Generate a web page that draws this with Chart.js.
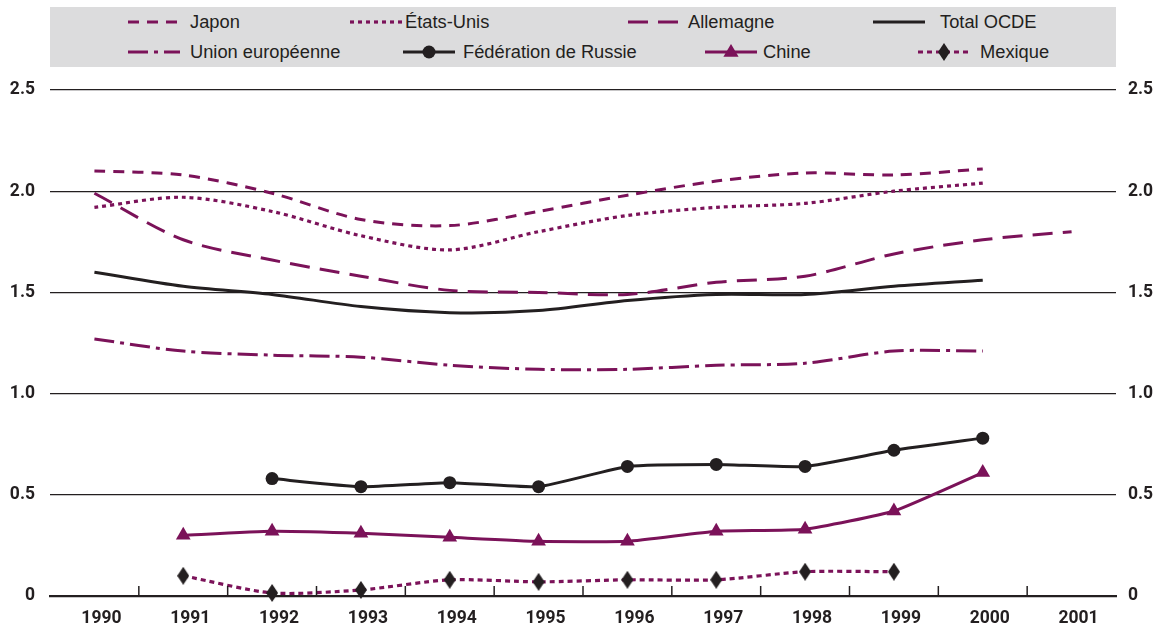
<!DOCTYPE html>
<html lang="fr">
<head>
<meta charset="utf-8">
<script src="https://cdn.jsdelivr.net/npm/chart.js@4.4.1/dist/chart.umd.min.js"></script>
<style>
  html, body { margin: 0; padding: 0; background: #ffffff; }
  #wrap { position: relative; width: 1160px; height: 627px; }
  #chart { position: absolute; left: 0; top: 0; }
  #legend {
    position: absolute; left: 50px; top: 7px; width: 1066px; height: 60px;
    background: #dcdcdd;
  }
  .sym { position: absolute; display: block; }
  .txt {
    position: absolute; line-height: 20px;
    font-family: "Liberation Sans", Arial, sans-serif; font-size: 18.3px;
    color: #231f20; white-space: nowrap;
  }
</style>
</head>
<body>
<div id="wrap">
  <canvas id="chart" width="1160" height="627"></canvas>
  <div id="legend"></div>
</div>
<script>
// Années
const years = ['1990', '1991', '1992', '1993', '1994', '1995', '1996', '1997', '1998', '1999', '2000', '2001'];

// Séries
const japon      = [2.10, 2.08, 1.99, 1.86, 1.83, 1.90, 1.98, 2.05, 2.09, 2.08, 2.11, null];
const etatsUnis  = [1.92, 1.97, 1.90, 1.78, 1.71, 1.80, 1.88, 1.92, 1.94, 2.00, 2.04, null];
const allemagne  = [1.99, 1.76, 1.66, 1.58, 1.51, 1.50, 1.49, 1.55, 1.58, 1.69, 1.76, 1.80];
const totalOCDE  = [1.60, 1.53, 1.49, 1.43, 1.40, 1.41, 1.46, 1.49, 1.49, 1.53, 1.56, null];
const unionEuro  = [1.27, 1.21, 1.19, 1.18, 1.14, 1.12, 1.12, 1.14, 1.15, 1.21, 1.21, null];
const russie     = [null, null, 0.58, 0.54, 0.56, 0.54, 0.64, 0.65, 0.64, 0.72, 0.78, null];
const chine      = [null, 0.30, 0.32, 0.31, 0.29, 0.27, 0.27, 0.32, 0.33, 0.42, 0.61, null];
const mexique    = [null, 0.10, 0.015, 0.03, 0.08, 0.07, 0.08, 0.08, 0.12, 0.12, null, null];

// Graduations de l'axe vertical
const yTicks = [0, 0.5, 1.0, 1.5, 2.0, 2.5];
const yTickLabels = ['0', '0.5', '1.0', '1.5', '2.0', '2.5'];

const PURPLE = '#7b1259';
const BLACK = '#231f20';

// Losange étiré pour le Mexique
function diamond(w, h, color) {
  const c = document.createElement('canvas');
  c.width = w; c.height = h;
  const g = c.getContext('2d');
  g.fillStyle = color;
  g.beginPath();
  g.moveTo(w / 2, 0); g.lineTo(w, h / 2); g.lineTo(w / 2, h); g.lineTo(0, h / 2);
  g.closePath(); g.fill();
  return c;
}
const mexDiamond = diamond(12, 18, BLACK);

const datasets = [
  { label: 'Japon', data: japon, borderColor: PURPLE, borderWidth: 3, borderDash: [11, 8], pointRadius: 0, tension: 0.3 },
  { label: 'États-Unis', data: etatsUnis, borderColor: PURPLE, borderWidth: 3.2, borderDash: [4, 4], pointRadius: 0, tension: 0.3 },
  { label: 'Allemagne', data: allemagne, borderColor: PURPLE, borderWidth: 3, borderDash: [20, 10], pointRadius: 0, tension: 0.3 },
  { label: 'Total OCDE', data: totalOCDE, borderColor: BLACK, borderWidth: 3, pointRadius: 0, tension: 0.3 },
  { label: 'Union européenne', data: unionEuro, borderColor: PURPLE, borderWidth: 3, borderDash: [20, 6, 4, 6], pointRadius: 0, tension: 0.3 },
  { label: 'Fédération de Russie', data: russie, borderColor: BLACK, backgroundColor: BLACK, borderWidth: 3,
    pointStyle: 'circle', pointRadius: 6.5, pointBorderWidth: 0, pointBackgroundColor: BLACK, tension: 0.15 },
  { label: 'Chine', data: chine, borderColor: PURPLE, backgroundColor: PURPLE, borderWidth: 3,
    pointStyle: 'triangle', pointRadius: 8.5, pointBorderWidth: 0, pointBackgroundColor: PURPLE, tension: 0.15 },
  { label: 'Mexique', data: mexique, borderColor: PURPLE, borderWidth: 3.2, borderDash: [5, 4],
    pointStyle: mexDiamond, pointRadius: 8, tension: 0.25 }
];
datasets.forEach(d => { d.fill = false; d.spanGaps = false; d.clip = false; });

// Petits traits verticaux entre les années, posés sur l'axe
const boundaryTicks = {
  id: 'boundaryTicks',
  afterDatasetsDraw(chart) {
    const x = chart.scales.x, ctx = chart.ctx, base = chart.chartArea.bottom;
    ctx.save();
    ctx.strokeStyle = BLACK; ctx.lineWidth = 1.5;
    for (let i = 1; i < years.length; i++) {
      const px = (x.getPixelForValue(i - 1) + x.getPixelForValue(i)) / 2;
      ctx.beginPath(); ctx.moveTo(px, base); ctx.lineTo(px, base - 10); ctx.stroke();
    }
    ctx.restore();
  }
};

const tickFont = { family: 'Roboto, "DejaVu Sans Condensed", sans-serif', size: 17.5, weight: 'bold' };
const yTickCallback = v => { const i = yTicks.indexOf(Math.round(v * 10) / 10); return i >= 0 ? yTickLabels[i] : ''; };

new Chart(document.getElementById('chart'), {
  type: 'line',
  data: { labels: years, datasets },
  options: {
    responsive: false,
    animation: false,
    devicePixelRatio: 1,
    layout: { padding: { top: 90, left: 0, right: 0, bottom: 0 } },
    plugins: { legend: { display: false }, tooltip: { enabled: false } },
    scales: {
      x: {
        type: 'category', offset: true,
        grid: { display: false, drawTicks: false },
        border: { display: true, color: BLACK, width: 2.2 },
        ticks: { font: tickFont, color: BLACK, padding: 12, labelOffset: 7, maxRotation: 0, autoSkip: false },
        afterFit(s) { s.height = 31; }
      },
      y: {
        position: 'left', min: 0, max: 2.5,
        afterBuildTicks(s) { s.ticks = yTicks.map(v => ({ value: v })); },
        grid: { color: BLACK, lineWidth: 1.3, drawTicks: false },
        border: { display: false },
        ticks: { font: tickFont, color: BLACK, padding: 15, callback: yTickCallback },
        afterFit(s) { s.width = 50; }
      },
      y2: {
        position: 'right', min: 0, max: 2.5,
        afterBuildTicks(s) { s.ticks = yTicks.map(v => ({ value: v })); },
        grid: { display: false, drawTicks: false },
        border: { display: false },
        ticks: { font: tickFont, color: BLACK, padding: 12, callback: yTickCallback },
        afterFit(s) { s.width = 44; }
      }
    }
  },
  plugins: [boundaryTicks]
});

// Légende : quatre colonnes sur deux lignes (symbole, texte, haut), relatif au cadre gris
const legendPos = [
  [78, 140, 5], [300, 355, 5], [578, 638, 5], [823, 890, 5],
  [78, 140, 35], [353, 413, 35], [655, 713, 35], [868, 930, 35]
];
const legendEl = document.getElementById('legend');
datasets.forEach((d, i) => {
  const [sx, tx, ty] = legendPos[i];
  const c = document.createElement('canvas');
  c.className = 'sym';
  c.width = 52; c.height = 20;
  c.style.left = sx + 'px'; c.style.top = ty + 'px';
  const g = c.getContext('2d');
  g.strokeStyle = d.borderColor; g.lineWidth = d.borderWidth;
  g.setLineDash(d.borderDash || []);
  g.beginPath(); g.moveTo(0, 10); g.lineTo(52, 10); g.stroke();
  g.setLineDash([]);
  if (d.pointStyle === 'circle') {
    g.fillStyle = d.pointBackgroundColor;
    g.beginPath(); g.arc(26, 10, 6.5, 0, Math.PI * 2); g.fill();
  } else if (d.pointStyle === 'triangle') {
    g.fillStyle = d.pointBackgroundColor;
    const r = 8;
    g.beginPath();
    g.moveTo(26, 10 - r); g.lineTo(26 + r * 0.95, 10 + r * 0.6); g.lineTo(26 - r * 0.95, 10 + r * 0.6);
    g.closePath(); g.fill();
  } else if (d.pointStyle instanceof HTMLCanvasElement) {
    g.drawImage(d.pointStyle, 26 - d.pointStyle.width / 2, 10 - d.pointStyle.height / 2);
  }
  const s = document.createElement('div');
  s.className = 'txt';
  s.style.left = tx + 'px'; s.style.top = ty + 'px';
  s.textContent = d.label;
  legendEl.appendChild(c); legendEl.appendChild(s);
});
</script>
</body>
</html>
